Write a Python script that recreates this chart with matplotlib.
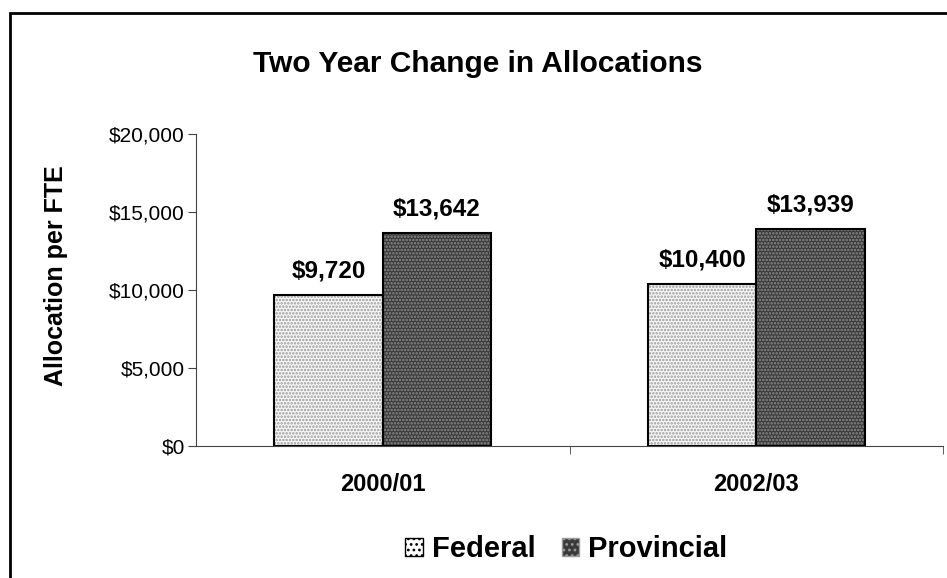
import numpy as np
import matplotlib.pyplot as plt
from matplotlib.patches import Patch, Rectangle

plt.rcParams['font.family'] = ['Liberation Sans', 'DejaVu Sans']
plt.rcParams['hatch.linewidth'] = 1.2

years = ['2000/01', '2002/03']
federal = [9720, 10400]
provincial = [13642, 13939]
series = ['Federal', 'Provincial']

fig = plt.figure(figsize=(9.47, 5.78), dpi=100)
ax = fig.add_axes([0.207, 0.228, 0.789, 0.54])

x = np.arange(len(years))
w = 0.29
fed_face, fed_hatch = '#f7f7f7', '#9a9a9a'
prov_face, prov_hatch = '#3a3a3a', '#8c8c8c'

# fill + hatch, then outline on top
ax.bar(x - w/2, federal, w, color=fed_face, edgecolor=fed_hatch, hatch='.....', linewidth=0)
ax.bar(x + w/2, provincial, w, color=prov_face, edgecolor=prov_hatch, hatch='.....', linewidth=0)
ax.bar(x - w/2, federal, w, fill=False, edgecolor='black', linewidth=1.5)
ax.bar(x + w/2, provincial, w, fill=False, edgecolor='black', linewidth=1.5)

for xi, v in zip(x - w/2, federal):
    ax.text(xi, v + 800, f'${v:,}', ha='center', va='bottom', fontsize=17.5, fontweight='bold')
for xi, v in zip(x + w/2, provincial):
    ax.text(xi, v + 800, f'${v:,}', ha='center', va='bottom', fontsize=17.5, fontweight='bold')

ax.set_xlim(-0.5, 1.5)
ax.set_ylim(0, 20000)
ax.set_yticks(np.arange(0, 20001, 5000))
ax.set_yticklabels([f'${v:,}' for v in range(0, 20001, 5000)], fontsize=15)
ax.set_xticks(x)
ax.set_xticklabels(years, fontsize=17, fontweight='bold')
ax.tick_params(axis='x', length=0, pad=19)
ax.set_xticks([0.5, 1.5], minor=True)
ax.tick_params(axis='x', which='minor', length=6, direction='out', color='#444')
ax.tick_params(axis='y', length=6, direction='out', color='#444', pad=2)

for s in ['top', 'right']:
    ax.spines[s].set_visible(False)
ax.spines['left'].set_color('#444')
ax.spines['bottom'].set_color('#444')

ax.set_ylabel('Allocation per FTE', fontsize=18, fontweight='bold')
ax.yaxis.set_label_coords(-0.171, 0.545)
fig.text(0.505, 0.890, 'Two Year Change in Allocations', ha='center', va='center',
         fontsize=21.5, fontweight='bold')

handles = [Patch(facecolor='white', edgecolor='black', hatch='...'),
           Patch(facecolor=prov_face, edgecolor='#9a9a9a', hatch='...')]
fig.legend(handles, series, loc='center', bbox_to_anchor=(0.598, 0.05), ncol=2,
           frameon=False, prop={'size': 21, 'weight': 'bold'},
           handlelength=0.6, handleheight=0.6, handletextpad=0.3, columnspacing=0.9)

fig.patches.append(Rectangle((10/947, -0.1), 1.2, 1 - 13/578 + 0.1, transform=fig.transFigure,
                             fill=False, edgecolor='black', linewidth=2))

fig.savefig('out.png', dpi=100)
